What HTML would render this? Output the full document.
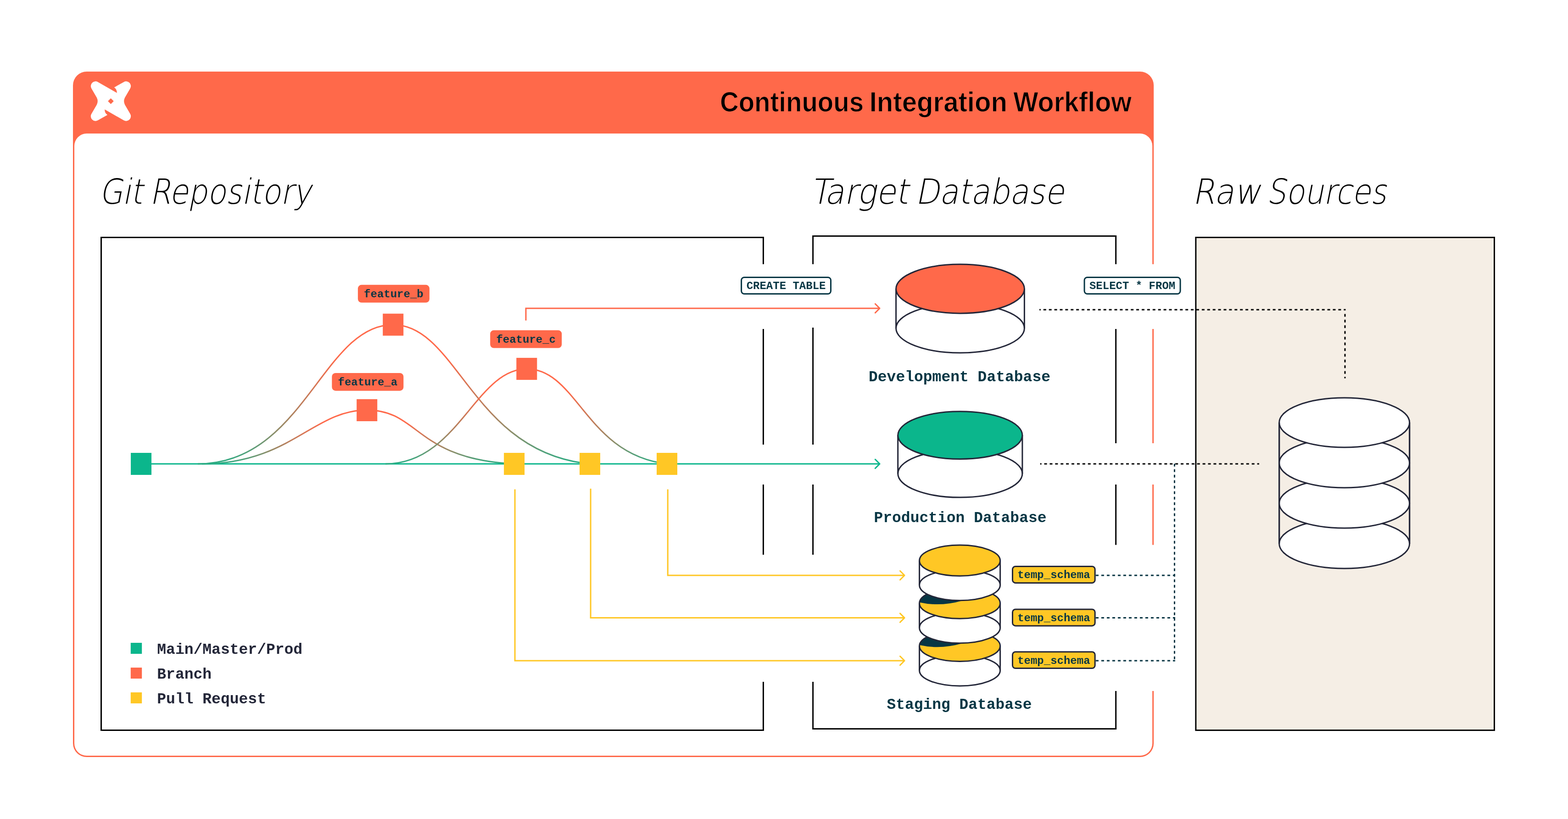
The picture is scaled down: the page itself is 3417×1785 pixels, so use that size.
<!DOCTYPE html>
<html lang="en">
<head>
<meta charset="utf-8">
<title>Continuous Integration Workflow</title>
<style>
html,body{margin:0;padding:0;background:#fff;}
body{width:3417px;height:1785px;overflow:hidden;}
svg{display:block;will-change:transform;}
.title{font-family:"Liberation Sans",sans-serif;font-weight:bold;fill:#000;}
.head{font-family:"DejaVu Sans","Liberation Sans",sans-serif;font-weight:200;fill:#000;}
.mono{font-family:"Liberation Mono",monospace;font-weight:bold;}
</style>
</head>
<body>
<svg width="3417" height="1785" viewBox="0 0 3417 1785">
<defs>
<linearGradient id="gb" x1="0" y1="0" x2="0" y2="1"><stop offset="0" stop-color="#ff694a"/><stop offset="0.22" stop-color="#ff694a"/><stop offset="0.4" stop-color="#dd7453"/><stop offset="0.63" stop-color="#b3815e"/><stop offset="0.76" stop-color="#918c68"/><stop offset="0.85" stop-color="#6d9772"/><stop offset="0.95" stop-color="#41a57d"/><stop offset="1.0" stop-color="#28ad84"/></linearGradient>
</defs>
<rect x="0" y="0" width="3417" height="1785" fill="#fff"/>

<rect x="159.0" y="155.9" width="2355.2" height="1494.1999999999998" rx="30" ry="30" fill="#ff694a"/>
<rect x="162.0" y="291" width="2349.2" height="1356.1" rx="27" ry="27" fill="#fff"/>
<rect x="2508.2" y="575.8" width="12" height="141.20000000000005" fill="#fff"/>
<rect x="2508.2" y="966" width="12" height="90" fill="#fff"/>
<rect x="2508.2" y="1187.6" width="12" height="318.4000000000001" fill="#fff"/>
<g transform="translate(241.5 220.5)"><path d="M -42.1,-27.6 A 10.2 10.2 0 0 1 -28.2,-41.7 L 13.3,-18.0 A 14 14 0 0 0 7.4,-30 L 28.3,-41.8 A 10.2 10.2 0 0 1 42.1,-27.6 L 30.6,-7.8 Q 26.8,0 30.6,7.8 L 42.1,27.6 A 10.2 10.2 0 0 1 28.2,41.7 L -13.3,18.0 A 14 14 0 0 0 -7.4,30 L -28.3,41.8 A 10.2 10.2 0 0 1 -42.1,27.6 L -30.6,7.8 Q -26.8,0 -30.6,-7.8 Z" fill="#fff"/><rect x="-4.5" y="-4.5" width="9" height="9" rx="0.8" transform="rotate(45)" fill="#ff694a"/></g>
<text class="title" transform="translate(1569.0 243.2)" font-size="61" stroke="#ff694a" stroke-width="1.2"><tspan x="0.0" textLength="313.0" lengthAdjust="spacingAndGlyphs">Continuous</tspan> <tspan x="325.7" textLength="300.3" lengthAdjust="spacingAndGlyphs">Integration</tspan> <tspan x="639.3" textLength="257.81" lengthAdjust="spacingAndGlyphs">Workflow</tspan></text>
<text class="head" transform="translate(216.2 443.9) skewX(-11)" font-size="75.6" ><tspan x="0.0" textLength="94.41" lengthAdjust="spacingAndGlyphs">Git</tspan> <tspan x="110.0" textLength="351.64" lengthAdjust="spacingAndGlyphs">Repository</tspan></text>
<text class="head" transform="translate(1766.0 443.9) skewX(-11)" font-size="75.6" ><tspan x="0.0" textLength="213.49" lengthAdjust="spacingAndGlyphs">Target</tspan> <tspan x="228.7" textLength="324.11" lengthAdjust="spacingAndGlyphs">Database</tspan></text>
<text class="head" transform="translate(2598.6 443.9) skewX(-11)" font-size="75.6" ><tspan x="0.0" textLength="148.32" lengthAdjust="spacingAndGlyphs">Raw</tspan> <tspan x="161.7" textLength="260.74" lengthAdjust="spacingAndGlyphs">Sources</tspan></text>
<rect x="2605.9" y="517.5" width="650.6" height="1074.1" fill="#f5eee5" stroke="#000000" stroke-width="3"/>
<path d="M 1663.4,575.8 L 1663.4,517.5 L 220.5,517.5 L 220.5,1591.6 L 1663.4,1591.6 L 1663.4,1486" fill="none" stroke="#000000" stroke-width="3" />
<path d="M 1663.4,717 L 1663.4,969" fill="none" stroke="#000000" stroke-width="3" />
<path d="M 1663.4,1056 L 1663.4,1209" fill="none" stroke="#000000" stroke-width="3" />
<path d="M 1771.6,575.8 L 1771.6,514.5 L 2431.7,514.5 L 2431.7,575.8" fill="none" stroke="#000000" stroke-width="3" />
<path d="M 1771.6,714 L 1771.6,969" fill="none" stroke="#000000" stroke-width="3" />
<path d="M 1771.6,1056 L 1771.6,1209" fill="none" stroke="#000000" stroke-width="3" />
<path d="M 1771.6,1486 L 1771.6,1588.6 L 2431.7,1588.6 L 2431.7,1506" fill="none" stroke="#000000" stroke-width="3" />
<path d="M 2431.7,717 L 2431.7,966" fill="none" stroke="#000000" stroke-width="3" />
<path d="M 2431.7,1056 L 2431.7,1187.6" fill="none" stroke="#000000" stroke-width="3" />
<path d="M 2265.1,674.9 L 2932.5,674.9" fill="none" stroke="#000" stroke-width="3" stroke-dasharray="5.95 5.95" stroke-dashoffset="3.15"/>
<path d="M 2931,684.2 L 2931,824.6" fill="none" stroke="#000" stroke-width="3" stroke-dasharray="6 6.45"/>
<path d="M 2266.7,1010.9 L 2744,1010.9" fill="none" stroke="#000" stroke-width="3" stroke-dasharray="5.95 5.95" stroke-dashoffset="3.0"/>
<path d="M 2559.5,1010.8 L 2559.5,1440" fill="none" stroke="#073644" stroke-width="3" stroke-dasharray="6 6"/>
<path d="M 2388,1254 L 2561,1254" fill="none" stroke="#073644" stroke-width="3" stroke-dasharray="6 6"/>
<path d="M 2388,1346.6 L 2561,1346.6" fill="none" stroke="#073644" stroke-width="3" stroke-dasharray="6 6"/>
<path d="M 2388,1440 L 2561,1440" fill="none" stroke="#073644" stroke-width="3" stroke-dasharray="6 6"/>
<path d="M 330,1011.0 L 1916,1011.0" fill="none" stroke="#0bb68c" stroke-width="3"/>
<path d="M 1907.3,1001.3 L 1917.0,1011.0 L 1907.3,1020.7" fill="none" stroke="#0bb68c" stroke-width="3" stroke-linecap="round" stroke-linejoin="round"/>
<path d="M 431,1011.0 C 662.3,1011.0 702.7,707.7 856.5,707.7 C 997.6,707.7 1028.7,985.9 1284.7,1011.0" fill="none" stroke="url(#gb)" stroke-width="3"/>
<path d="M 440,1011.0 C 632,1011.0 682.5,893.7 799.5,893.7 C 914.3,893.7 903.7,999.7 1119.5,1011.0" fill="none" stroke="url(#gb)" stroke-width="3"/>
<path d="M 840,1011.0 C 998,1011.0 1036.6,804 1147.6,804 C 1258.5,804 1277.1999999999998,991.5 1454.6,1011.0" fill="none" stroke="url(#gb)" stroke-width="3"/>
<path d="M 1146,698.5 L 1146,672.0 L 1916.5,672.0" fill="none" stroke="#ff694a" stroke-width="3"/>
<path d="M 1907.3,662.3 L 1917.0,672.0 L 1907.3,681.7" fill="none" stroke="#ff694a" stroke-width="3" stroke-linecap="round" stroke-linejoin="round"/>
<path d="M 1455.2,1066.5 L 1455.2,1254 L 1971,1254" fill="none" stroke="#ffc725" stroke-width="3"/>
<path d="M 1961.3999999999999,1244.3 L 1971.1,1254 L 1961.3999999999999,1263.7" fill="none" stroke="#ffc725" stroke-width="3" stroke-linecap="round" stroke-linejoin="round"/>
<path d="M 1287.1,1065 L 1287.1,1346.6 L 1971,1346.6" fill="none" stroke="#ffc725" stroke-width="3"/>
<path d="M 1961.3999999999999,1336.8999999999999 L 1971.1,1346.6 L 1961.3999999999999,1356.3" fill="none" stroke="#ffc725" stroke-width="3" stroke-linecap="round" stroke-linejoin="round"/>
<path d="M 1122.1,1066.5 L 1122.1,1440 L 1971,1440" fill="none" stroke="#ffc725" stroke-width="3"/>
<path d="M 1961.3999999999999,1430.3 L 1971.1,1440 L 1961.3999999999999,1449.7" fill="none" stroke="#ffc725" stroke-width="3" stroke-linecap="round" stroke-linejoin="round"/>
<rect x="285.05" y="987.0" width="45" height="48" fill="#0bb68c"/>
<rect x="834.2" y="683.6" width="45" height="48" fill="#ff694a"/>
<rect x="777.2" y="870" width="45" height="48" fill="#ff694a"/>
<rect x="1125.3" y="779.9" width="45" height="48" fill="#ff694a"/>
<rect x="1098.1" y="987.0" width="45" height="48" fill="#ffc725"/>
<rect x="1263" y="987.0" width="45" height="48" fill="#ffc725"/>
<rect x="1431" y="987.0" width="45" height="48" fill="#ffc725"/>
<rect x="779.9" y="620.8" width="156" height="38.8" rx="8" fill="#ff694a"/>
<text class="mono" x="857.9" y="648.0999999999999" font-size="24" text-anchor="middle" fill="#073644">feature_b</text>
<rect x="723.3" y="812.9" width="156" height="38.8" rx="8" fill="#ff694a"/>
<text class="mono" x="801.3" y="840.1999999999999" font-size="24" text-anchor="middle" fill="#073644">feature_a</text>
<rect x="1068.2" y="719.7" width="156" height="38.8" rx="8" fill="#ff694a"/>
<text class="mono" x="1146.2" y="747.0" font-size="24" text-anchor="middle" fill="#073644">feature_c</text>
<rect x="1615.6" y="604.4" width="194.9000000000001" height="36.200000000000045" rx="6.5" fill="#fff" stroke="#073644" stroke-width="3"/>
<text class="mono" x="1713.05" y="630.4" font-size="24" text-anchor="middle" fill="#073644">CREATE TABLE</text>
<rect x="2363.1" y="604.4" width="209.0" height="36.200000000000045" rx="6.5" fill="#fff" stroke="#073644" stroke-width="3"/>
<text class="mono" x="2467.6" y="630.4" font-size="24" text-anchor="middle" fill="#073644">SELECT * FROM</text>
<rect x="2206.5" y="1234.5" width="179.69999999999982" height="35.90000000000009" rx="6.5" fill="#ffc725" stroke="#232638" stroke-width="3"/>
<text class="mono" x="2296.35" y="1260.3500000000001" font-size="24" text-anchor="middle" fill="#073644">temp_schema</text>
<rect x="2206.5" y="1328.0" width="179.69999999999982" height="35.90000000000009" rx="6.5" fill="#ffc725" stroke="#232638" stroke-width="3"/>
<text class="mono" x="2296.35" y="1353.8500000000001" font-size="24" text-anchor="middle" fill="#073644">temp_schema</text>
<rect x="2206.5" y="1420.7" width="179.69999999999982" height="35.90000000000009" rx="6.5" fill="#ffc725" stroke="#232638" stroke-width="3"/>
<text class="mono" x="2296.35" y="1446.5500000000002" font-size="24" text-anchor="middle" fill="#073644">temp_schema</text>
<ellipse cx="2092.5" cy="715.6" rx="139.9" ry="53.4" fill="#fff" stroke="#232638" stroke-width="3"/>
<path d="M 1952.6,629.5 L 1952.6,715.6 M 2232.4,629.5 L 2232.4,715.6" fill="none" stroke="#232638" stroke-width="3"/>
<ellipse cx="2092.5" cy="629.5" rx="139.9" ry="53.4" fill="#ff694a" stroke="#232638" stroke-width="3"/>
<ellipse cx="2092.3" cy="1032.3" rx="135.6" ry="51.8" fill="#fff" stroke="#232638" stroke-width="3"/>
<path d="M 1956.7000000000003,948.6 L 1956.7000000000003,1032.3 M 2227.9,948.6 L 2227.9,1032.3" fill="none" stroke="#232638" stroke-width="3"/>
<ellipse cx="2092.3" cy="948.6" rx="135.6" ry="51.8" fill="#0bb68c" stroke="#232638" stroke-width="3"/>
<clipPath id="cy2"><ellipse cx="2091.6" cy="1314.7" rx="88.0" ry="33.6"/></clipPath>
<clipPath id="cy3"><ellipse cx="2091.6" cy="1407.8" rx="88.0" ry="33.6"/></clipPath>
<ellipse cx="2091.6" cy="1461.3" rx="88.0" ry="33.6" fill="#fff" stroke="#232638" stroke-width="3"/>
<path d="M 2003.6,1407.8 L 2003.6,1461.3 M 2179.6,1407.8 L 2179.6,1461.3" fill="none" stroke="#232638" stroke-width="3"/>
<ellipse cx="2091.6" cy="1407.8" rx="88.0" ry="33.6" fill="#ffc725"/>
<path clip-path="url(#cy3)" d="M 2000.6,1367.8 L 2000.6,1405.3 Q 2047.6,1416.5 2097.6,1402.0 L 2097.6,1367.8 Z" fill="#073644"/>
<ellipse cx="2091.6" cy="1407.8" rx="88.0" ry="33.6" fill="none" stroke="#232638" stroke-width="3"/>
<ellipse cx="2091.6" cy="1368.2" rx="88.0" ry="33.6" fill="#fff" stroke="#232638" stroke-width="3"/>
<path d="M 2003.6,1314.7 L 2003.6,1368.2 M 2179.6,1314.7 L 2179.6,1368.2" fill="none" stroke="#232638" stroke-width="3"/>
<ellipse cx="2091.6" cy="1314.7" rx="88.0" ry="33.6" fill="#ffc725"/>
<path clip-path="url(#cy2)" d="M 2000.6,1274.7 L 2000.6,1312.2 Q 2047.6,1323.4 2097.6,1308.9 L 2097.6,1274.7 Z" fill="#073644"/>
<ellipse cx="2091.6" cy="1314.7" rx="88.0" ry="33.6" fill="none" stroke="#232638" stroke-width="3"/>
<ellipse cx="2091.6" cy="1275.2" rx="88.0" ry="33.6" fill="#fff" stroke="#232638" stroke-width="3"/>
<path d="M 2003.6,1221.7 L 2003.6,1275.2 M 2179.6,1221.7 L 2179.6,1275.2" fill="none" stroke="#232638" stroke-width="3"/>
<ellipse cx="2091.6" cy="1221.7" rx="88.0" ry="33.6" fill="#ffc725"/>
<ellipse cx="2091.6" cy="1221.7" rx="88.0" ry="33.6" fill="none" stroke="#232638" stroke-width="3"/>
<path d="M 2787.7,921.0 L 2787.7,1185.0 M 3071.7,921.0 L 3071.7,1185.0" fill="none" stroke="#232638" stroke-width="3"/>
<ellipse cx="2929.7" cy="1185.0" rx="142.0" ry="53.9" fill="#fff" stroke="#232638" stroke-width="3"/>
<ellipse cx="2929.7" cy="1097.0" rx="142.0" ry="53.9" fill="#fff" stroke="#232638" stroke-width="3"/>
<ellipse cx="2929.7" cy="1009.0" rx="142.0" ry="53.9" fill="#fff" stroke="#232638" stroke-width="3"/>
<ellipse cx="2929.7" cy="921.0" rx="142.0" ry="53.9" fill="#fff" stroke="#232638" stroke-width="3"/>
<path d="M 2787.7,921.0 L 2787.7,1185.0 M 3071.7,921.0 L 3071.7,1185.0" fill="none" stroke="#232638" stroke-width="3"/>
<text class="mono" x="2091" y="831.3" font-size="33" text-anchor="middle" fill="#073644" textLength="396" lengthAdjust="spacingAndGlyphs">Development Database</text>
<text class="mono" x="2092.5" y="1137.8" font-size="33" text-anchor="middle" fill="#073644" textLength="376" lengthAdjust="spacingAndGlyphs">Production Database</text>
<text class="mono" x="2090.5" y="1545" font-size="33" text-anchor="middle" fill="#073644" textLength="316" lengthAdjust="spacingAndGlyphs">Staging Database</text>
<rect x="284.8" y="1401" width="24.4" height="24" fill="#0bb68c"/>
<text class="mono" x="342.3" y="1424.7" font-size="33" fill="#232638">Main/Master/Prod</text>
<rect x="284.8" y="1455" width="24.4" height="24" fill="#ff694a"/>
<text class="mono" x="342.3" y="1478.7" font-size="33" fill="#232638">Branch</text>
<rect x="284.8" y="1509" width="24.4" height="24" fill="#ffc725"/>
<text class="mono" x="342.3" y="1532.7" font-size="33" fill="#232638">Pull Request</text>
</svg>
</body>
</html>
